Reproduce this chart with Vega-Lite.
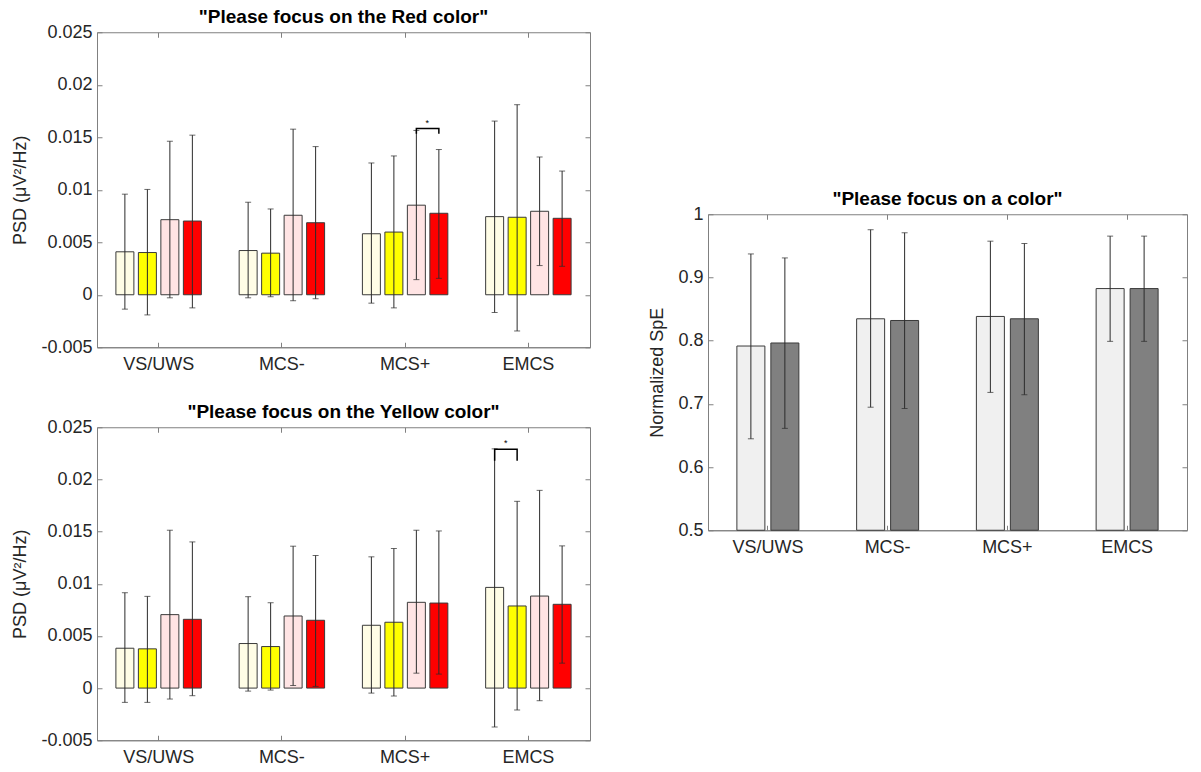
{
  "$schema": "https://vega.github.io/schema/vega-lite/v6.json",
  "padding": {"left": 11, "top": 7, "right": 5, "bottom": 5},
  "background": "white",
  "datasets": {
    "red": [
      {"group": "VS/UWS", "cond": "Pale yellow", "mean": 0.00409, "lo": -0.00137, "hi": 0.00958},
      {"group": "VS/UWS", "cond": "Yellow", "mean": 0.00402, "lo": -0.00192, "hi": 0.01003},
      {"group": "VS/UWS", "cond": "Pale red", "mean": 0.00715, "lo": -0.00029, "hi": 0.01462},
      {"group": "VS/UWS", "cond": "Red", "mean": 0.00702, "lo": -0.00125, "hi": 0.0152},
      {"group": "MCS-", "cond": "Pale yellow", "mean": 0.00421, "lo": -0.00029, "hi": 0.00881},
      {"group": "MCS-", "cond": "Yellow", "mean": 0.00396, "lo": -0.00019, "hi": 0.00817},
      {"group": "MCS-", "cond": "Pale red", "mean": 0.00757, "lo": -0.00057, "hi": 0.01577},
      {"group": "MCS-", "cond": "Red", "mean": 0.00686, "lo": -0.00038, "hi": 0.01411},
      {"group": "MCS+", "cond": "Pale yellow", "mean": 0.00581, "lo": -0.0008, "hi": 0.01255},
      {"group": "MCS+", "cond": "Yellow", "mean": 0.00597, "lo": -0.00125, "hi": 0.01322},
      {"group": "MCS+", "cond": "Pale red", "mean": 0.00853, "lo": 0.00144, "hi": 0.01565},
      {"group": "MCS+", "cond": "Red", "mean": 0.00776, "lo": 0.00156, "hi": 0.01383},
      {"group": "EMCS", "cond": "Pale yellow", "mean": 0.00744, "lo": -0.00169, "hi": 0.01654},
      {"group": "EMCS", "cond": "Yellow", "mean": 0.00738, "lo": -0.00345, "hi": 0.0181},
      {"group": "EMCS", "cond": "Pale red", "mean": 0.00795, "lo": 0.00278, "hi": 0.01312},
      {"group": "EMCS", "cond": "Red", "mean": 0.00728, "lo": 0.00271, "hi": 0.01178}
    ],
    "yellow": [
      {"group": "VS/UWS", "cond": "Pale yellow", "mean": 0.00382, "lo": -0.00137, "hi": 0.00914},
      {"group": "VS/UWS", "cond": "Yellow", "mean": 0.00376, "lo": -0.00137, "hi": 0.00879},
      {"group": "VS/UWS", "cond": "Pale red", "mean": 0.00704, "lo": -0.00105, "hi": 0.01513},
      {"group": "VS/UWS", "cond": "Red", "mean": 0.00659, "lo": -0.00073, "hi": 0.01401},
      {"group": "MCS-", "cond": "Pale yellow", "mean": 0.00427, "lo": -0.00029, "hi": 0.00876},
      {"group": "MCS-", "cond": "Yellow", "mean": 0.00398, "lo": -0.00019, "hi": 0.00818},
      {"group": "MCS-", "cond": "Pale red", "mean": 0.00691, "lo": 0.00025, "hi": 0.0136},
      {"group": "MCS-", "cond": "Red", "mean": 0.0065, "lo": 0.00016, "hi": 0.01271},
      {"group": "MCS+", "cond": "Pale yellow", "mean": 0.00602, "lo": -0.00048, "hi": 0.01258},
      {"group": "MCS+", "cond": "Yellow", "mean": 0.00631, "lo": -0.00076, "hi": 0.01338},
      {"group": "MCS+", "cond": "Pale red", "mean": 0.00822, "lo": 0.00143, "hi": 0.01513},
      {"group": "MCS+", "cond": "Red", "mean": 0.00815, "lo": 0.00134, "hi": 0.01506},
      {"group": "EMCS", "cond": "Pale yellow", "mean": 0.00965, "lo": -0.00373, "hi": 0.02293},
      {"group": "EMCS", "cond": "Yellow", "mean": 0.00787, "lo": -0.0021, "hi": 0.0179},
      {"group": "EMCS", "cond": "Pale red", "mean": 0.00882, "lo": -0.00121, "hi": 0.01895},
      {"group": "EMCS", "cond": "Red", "mean": 0.00803, "lo": 0.00239, "hi": 0.01363}
    ],
    "spe": [
      {"group": "VS/UWS", "cond": "Light", "mean": 0.7915, "lo": 0.6447, "hi": 0.9372},
      {"group": "VS/UWS", "cond": "Dark", "mean": 0.7963, "lo": 0.6612, "hi": 0.9309},
      {"group": "MCS-", "cond": "Light", "mean": 0.8346, "lo": 0.6947, "hi": 0.9755},
      {"group": "MCS-", "cond": "Dark", "mean": 0.8319, "lo": 0.6926, "hi": 0.9707},
      {"group": "MCS+", "cond": "Light", "mean": 0.8383, "lo": 0.7181, "hi": 0.9574},
      {"group": "MCS+", "cond": "Dark", "mean": 0.8346, "lo": 0.7144, "hi": 0.9537},
      {"group": "EMCS", "cond": "Light", "mean": 0.8824, "lo": 0.7989, "hi": 0.9654},
      {"group": "EMCS", "cond": "Dark", "mean": 0.8824, "lo": 0.7989, "hi": 0.9654}
    ],
    "bracketRed": [
      {"group": "MCS+", "cond": "Pale red", "y": 0.01533, "k": 1},
      {"group": "MCS+", "cond": "Pale red", "y": 0.01583, "k": 2},
      {"group": "MCS+", "cond": "Red", "y": 0.01583, "k": 3},
      {"group": "MCS+", "cond": "Red", "y": 0.01533, "k": 4}
    ],
    "starRed": [
      {"group": "MCS+", "cond": "Pale red", "y": 0.0159, "label": "*"}
    ],
    "bracketYellow": [
      {"group": "EMCS", "cond": "Pale yellow", "y": 0.0218, "k": 1},
      {"group": "EMCS", "cond": "Pale yellow", "y": 0.02289, "k": 2},
      {"group": "EMCS", "cond": "Yellow", "y": 0.02289, "k": 3},
      {"group": "EMCS", "cond": "Yellow", "y": 0.0218, "k": 4}
    ],
    "starYellow": [
      {"group": "EMCS", "cond": "Pale yellow", "y": 0.023, "label": "*"}
    ]
  },
  "hconcat": [
    {
      "vconcat": [
        {
          "title": {"text": "\"Please focus on the Red color\""},
          "width": 493,
          "height": 315,
          "resolve": {"axis": {"x": "independent", "y": "independent"}},
          "layer": [
            {
              "data": {"name": "red"},
              "mark": {"type": "bar", "stroke": "#3a3a3a", "strokeWidth": 1},
              "encoding": {
                "x": {"field": "group", "type": "nominal", "sort": ["VS/UWS", "MCS-", "MCS+", "EMCS"], "scale": {"paddingInner": 0, "paddingOuter": 0}, "axis": {"title": null, "labelAngle": 0, "tickSize": -5, "labelPadding": 13}},
                "xOffset": {"field": "cond", "type": "nominal", "sort": ["Pale yellow", "Yellow", "Pale red", "Red"], "scale": {"paddingInner": 0.2, "paddingOuter": 0.84}},
                "y": {"field": "mean", "type": "quantitative", "scale": {"domain": [-0.005, 0.025], "nice": false, "zero": false}, "axis": {"title": "PSD (μV²/Hz)", "values": [-0.005, 0, 0.005, 0.01, 0.015, 0.02, 0.025], "labelExpr": "replace(format(datum.value, '~g'), '−', '-')", "tickSize": -5, "labelPadding": 10, "titlePadding": 11}},
                "color": {"field": "cond", "type": "nominal", "scale": {"domain": ["Pale yellow", "Yellow", "Pale red", "Red"], "range": ["#FFFDE6", "#FFFF00", "#FFE4E4", "#FF0000"]}, "legend": null}
              }
            },
            {
              "mark": {"type": "rule", "color": "#000000", "strokeWidth": 1},
              "encoding": {"y": {"datum": 0, "axis": null}}
            },
            {
              "data": {"name": "red"},
              "mark": {"type": "rule", "color": "#2b2b2b", "strokeWidth": 1},
              "encoding": {
                "x": {"field": "group", "type": "nominal", "sort": ["VS/UWS", "MCS-", "MCS+", "EMCS"], "axis": {"orient": "top", "title": null, "labels": false, "domain": false, "tickSize": -5}},
                "xOffset": {"field": "cond", "type": "nominal", "sort": ["Pale yellow", "Yellow", "Pale red", "Red"]},
                "y": {"field": "lo", "type": "quantitative", "axis": {"orient": "right", "title": null, "labels": false, "domain": false, "tickSize": -5, "values": [-0.005, 0, 0.005, 0.01, 0.015, 0.02, 0.025]}},
                "y2": {"field": "hi"}
              }
            },
            {
              "data": {"name": "red"},
              "mark": {"type": "tick", "color": "#2b2b2b", "size": 6, "thickness": 1},
              "encoding": {
                "x": {"field": "group", "type": "nominal", "sort": ["VS/UWS", "MCS-", "MCS+", "EMCS"], "axis": null},
                "xOffset": {"field": "cond", "type": "nominal", "sort": ["Pale yellow", "Yellow", "Pale red", "Red"]},
                "y": {"field": "lo", "type": "quantitative", "axis": null}
              }
            },
            {
              "data": {"name": "red"},
              "mark": {"type": "tick", "color": "#2b2b2b", "size": 6, "thickness": 1},
              "encoding": {
                "x": {"field": "group", "type": "nominal", "sort": ["VS/UWS", "MCS-", "MCS+", "EMCS"], "axis": null},
                "xOffset": {"field": "cond", "type": "nominal", "sort": ["Pale yellow", "Yellow", "Pale red", "Red"]},
                "y": {"field": "hi", "type": "quantitative", "axis": null}
              }
            },
            {
              "data": {"name": "bracketRed"},
              "mark": {"type": "line", "color": "#000000", "strokeWidth": 1.5},
              "encoding": {
                "x": {"field": "group", "type": "nominal", "sort": ["VS/UWS", "MCS-", "MCS+", "EMCS"], "axis": null},
                "xOffset": {"field": "cond", "type": "nominal", "sort": ["Pale yellow", "Yellow", "Pale red", "Red"]},
                "y": {"field": "y", "type": "quantitative", "axis": null},
                "order": {"field": "k"}
              }
            },
            {
              "data": {"name": "starRed"},
              "mark": {"type": "text", "fontSize": 9, "dx": 11, "baseline": "bottom", "color": "#000000"},
              "encoding": {
                "x": {"field": "group", "type": "nominal", "sort": ["VS/UWS", "MCS-", "MCS+", "EMCS"], "axis": null},
                "xOffset": {"field": "cond", "type": "nominal", "sort": ["Pale yellow", "Yellow", "Pale red", "Red"]},
                "y": {"field": "y", "type": "quantitative", "axis": null},
                "text": {"field": "label"}
              }
            }
          ]
        },
        {
          "title": {"text": "\"Please focus on the Yellow color\""},
          "width": 493,
          "height": 313,
          "resolve": {"axis": {"x": "independent", "y": "independent"}},
          "layer": [
            {
              "data": {"name": "yellow"},
              "mark": {"type": "bar", "stroke": "#3a3a3a", "strokeWidth": 1},
              "encoding": {
                "x": {"field": "group", "type": "nominal", "sort": ["VS/UWS", "MCS-", "MCS+", "EMCS"], "scale": {"paddingInner": 0, "paddingOuter": 0}, "axis": {"title": null, "labelAngle": 0, "tickSize": -5, "labelPadding": 13}},
                "xOffset": {"field": "cond", "type": "nominal", "sort": ["Pale yellow", "Yellow", "Pale red", "Red"], "scale": {"paddingInner": 0.2, "paddingOuter": 0.84}},
                "y": {"field": "mean", "type": "quantitative", "scale": {"domain": [-0.005, 0.025], "nice": false, "zero": false}, "axis": {"title": "PSD (μV²/Hz)", "values": [-0.005, 0, 0.005, 0.01, 0.015, 0.02, 0.025], "labelExpr": "replace(format(datum.value, '~g'), '−', '-')", "tickSize": -5, "labelPadding": 10, "titlePadding": 11}},
                "color": {"field": "cond", "type": "nominal", "scale": {"domain": ["Pale yellow", "Yellow", "Pale red", "Red"], "range": ["#FFFDE6", "#FFFF00", "#FFE4E4", "#FF0000"]}, "legend": null}
              }
            },
            {
              "mark": {"type": "rule", "color": "#000000", "strokeWidth": 1},
              "encoding": {"y": {"datum": 0, "axis": null}}
            },
            {
              "data": {"name": "yellow"},
              "mark": {"type": "rule", "color": "#2b2b2b", "strokeWidth": 1},
              "encoding": {
                "x": {"field": "group", "type": "nominal", "sort": ["VS/UWS", "MCS-", "MCS+", "EMCS"], "axis": {"orient": "top", "title": null, "labels": false, "domain": false, "tickSize": -5}},
                "xOffset": {"field": "cond", "type": "nominal", "sort": ["Pale yellow", "Yellow", "Pale red", "Red"]},
                "y": {"field": "lo", "type": "quantitative", "axis": {"orient": "right", "title": null, "labels": false, "domain": false, "tickSize": -5, "values": [-0.005, 0, 0.005, 0.01, 0.015, 0.02, 0.025]}},
                "y2": {"field": "hi"}
              }
            },
            {
              "data": {"name": "yellow"},
              "mark": {"type": "tick", "color": "#2b2b2b", "size": 6, "thickness": 1},
              "encoding": {
                "x": {"field": "group", "type": "nominal", "sort": ["VS/UWS", "MCS-", "MCS+", "EMCS"], "axis": null},
                "xOffset": {"field": "cond", "type": "nominal", "sort": ["Pale yellow", "Yellow", "Pale red", "Red"]},
                "y": {"field": "lo", "type": "quantitative", "axis": null}
              }
            },
            {
              "data": {"name": "yellow"},
              "mark": {"type": "tick", "color": "#2b2b2b", "size": 6, "thickness": 1},
              "encoding": {
                "x": {"field": "group", "type": "nominal", "sort": ["VS/UWS", "MCS-", "MCS+", "EMCS"], "axis": null},
                "xOffset": {"field": "cond", "type": "nominal", "sort": ["Pale yellow", "Yellow", "Pale red", "Red"]},
                "y": {"field": "hi", "type": "quantitative", "axis": null}
              }
            },
            {
              "data": {"name": "bracketYellow"},
              "mark": {"type": "line", "color": "#000000", "strokeWidth": 1.5},
              "encoding": {
                "x": {"field": "group", "type": "nominal", "sort": ["VS/UWS", "MCS-", "MCS+", "EMCS"], "axis": null},
                "xOffset": {"field": "cond", "type": "nominal", "sort": ["Pale yellow", "Yellow", "Pale red", "Red"]},
                "y": {"field": "y", "type": "quantitative", "axis": null},
                "order": {"field": "k"}
              }
            },
            {
              "data": {"name": "starYellow"},
              "mark": {"type": "text", "fontSize": 9, "dx": 11, "baseline": "bottom", "color": "#000000"},
              "encoding": {
                "x": {"field": "group", "type": "nominal", "sort": ["VS/UWS", "MCS-", "MCS+", "EMCS"], "axis": null},
                "xOffset": {"field": "cond", "type": "nominal", "sort": ["Pale yellow", "Yellow", "Pale red", "Red"]},
                "y": {"field": "y", "type": "quantitative", "axis": null},
                "text": {"field": "label"}
              }
            }
          ]
        }
      ],
      "spacing": 28
    },
    {
      "title": {"text": "\"Please focus on a color\""},
      "width": 479,
      "height": 316,
      "resolve": {"axis": {"x": "independent", "y": "independent"}},
      "layer": [
        {
          "data": {"name": "spe"},
          "mark": {"type": "bar", "stroke": "#3a3a3a", "strokeWidth": 1},
          "encoding": {
            "x": {"field": "group", "type": "nominal", "sort": ["VS/UWS", "MCS-", "MCS+", "EMCS"], "scale": {"paddingInner": 0, "paddingOuter": 0}, "axis": {"title": " ", "titleFontSize": 18, "titlePadding": 10, "labelAngle": 0, "tickSize": -5, "labelPadding": 13}},
            "xOffset": {"field": "cond", "type": "nominal", "sort": ["Light", "Dark"], "scale": {"paddingInner": 0.176, "paddingOuter": 0.85}},
            "y": {"field": "mean", "type": "quantitative", "scale": {"domain": [0.5, 1], "nice": false, "zero": false}, "axis": {"title": "Normalized SpE", "values": [0.5, 0.6, 0.7, 0.8, 0.9, 1], "labelExpr": "format(datum.value, '~g')", "tickSize": -5, "labelPadding": 10, "titlePadding": 11}},
            "y2": {"datum": 0.5},
            "color": {"field": "cond", "type": "nominal", "scale": {"domain": ["Light", "Dark"], "range": ["#F0F0F0", "#808080"]}, "legend": null}
          }
        },
        {
          "data": {"name": "spe"},
          "mark": {"type": "rule", "color": "#2b2b2b", "strokeWidth": 1},
          "encoding": {
            "x": {"field": "group", "type": "nominal", "sort": ["VS/UWS", "MCS-", "MCS+", "EMCS"], "axis": {"orient": "top", "title": null, "labels": false, "domain": false, "tickSize": -5}},
            "xOffset": {"field": "cond", "type": "nominal", "sort": ["Light", "Dark"]},
            "y": {"field": "lo", "type": "quantitative", "axis": {"orient": "right", "title": null, "labels": false, "domain": false, "tickSize": -5, "values": [0.5, 0.6, 0.7, 0.8, 0.9, 1]}},
            "y2": {"field": "hi"}
          }
        },
        {
          "data": {"name": "spe"},
          "mark": {"type": "tick", "color": "#2b2b2b", "size": 6, "thickness": 1},
          "encoding": {
            "x": {"field": "group", "type": "nominal", "sort": ["VS/UWS", "MCS-", "MCS+", "EMCS"], "axis": null},
            "xOffset": {"field": "cond", "type": "nominal", "sort": ["Light", "Dark"]},
            "y": {"field": "lo", "type": "quantitative", "axis": null}
          }
        },
        {
          "data": {"name": "spe"},
          "mark": {"type": "tick", "color": "#2b2b2b", "size": 6, "thickness": 1},
          "encoding": {
            "x": {"field": "group", "type": "nominal", "sort": ["VS/UWS", "MCS-", "MCS+", "EMCS"], "axis": null},
            "xOffset": {"field": "cond", "type": "nominal", "sort": ["Light", "Dark"]},
            "y": {"field": "hi", "type": "quantitative", "axis": null}
          }
        }
      ]
    }
  ],
  "spacing": 57,
  "center": true,
  "resolve": {"scale": {"color": "independent", "xOffset": "independent", "x": "independent", "y": "independent"}},
  "config": {
    "font": "Liberation Sans",
    "view": {"stroke": "#808080", "strokeWidth": 1},
    "title": {"fontSize": 19, "fontWeight": "bold", "color": "#000000", "offset": -4},
    "axis": {
      "domainColor": "#808080",
      "tickColor": "#808080",
      "labelColor": "#262626",
      "labelFontSize": 18,
      "titleColor": "#262626",
      "titleFontSize": 18,
      "titleFontWeight": "normal",
      "grid": false
    }
  }
}
